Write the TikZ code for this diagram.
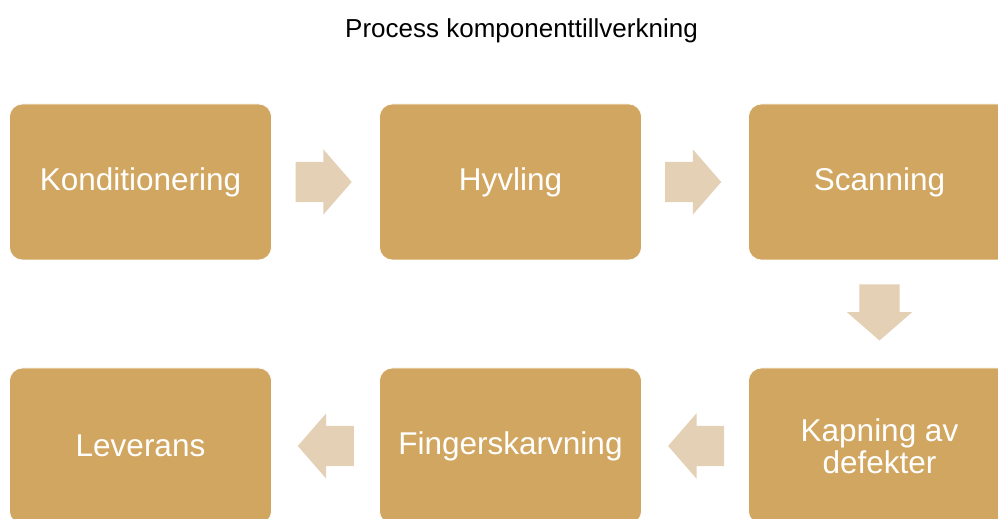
\documentclass[tikz,border=0pt]{standalone}
\usepackage{fontspec}
\setmainfont{Liberation Sans}
\usetikzlibrary{calc,shapes.arrows}
\definecolor{procGold}{RGB}{209,166,96}
\definecolor{procSand}{RGB}{228,208,181}

\begin{document}
\begin{tikzpicture}[x=1pt,y=1pt,
    stepbox/.style={rounded corners=13pt,fill=procGold,draw=white,line width=0.6pt,
      minimum width=262pt,minimum height=156pt,inner sep=0pt,text=white,align=center,
      font=\fontsize{31.5}{31.6}\selectfont},
    flowarrow/.style={single arrow,fill=procSand,draw=none,inner xsep=0pt,inner ysep=20pt,
      minimum height=56pt,minimum width=65pt,single arrow head extend=12.5pt,
      single arrow tip angle=98,anchor=tail}]
  \useasboundingbox (0,0) rectangle (998,519);
  \node[font=\fontsize{26}{30}\selectfont,anchor=base] (title) at (521.5,481) {Process komponenttillverkning};
  % upper row
  \node[stepbox] (kond) at (140.5,337) {Konditionering};
  \node[stepbox] (hyvl) at (510.5,337) {Hyvling};
  \node[stepbox] (scan) at (879.5,337) {Scanning};
  % lower row, right to left
  \node[stepbox] (kapn) at (879.5,73) {Kapning av\\defekter};
  \node[stepbox] (fing) at (510.5,73) {Fingerskarvning};
  \node[stepbox] (leve) at (140.5,73) {Leverans};
  % block arrows between the steps, placed by their tails
  \node[flowarrow] (kond-hyvl) at ($(kond.east)!0.5!(hyvl.west)+(-30,0)$) {};
  \node[flowarrow] (hyvl-scan) at ($(hyvl.east)!0.5!(scan.west)+(-30,0)$) {};
  \node[flowarrow,shape border rotate=270,inner xsep=20pt,inner ysep=0pt] (scan-kapn) at ($(scan.south)!0.5!(kapn.north)+(0,29.7)$) {};
  \node[flowarrow,shape border rotate=180] (kapn-fing) at ($(kapn.west)!0.5!(fing.east)+(29.3,0)$) {};
  \node[flowarrow,shape border rotate=180] (fing-leve) at ($(fing.west)!0.5!(leve.east)+(28.5,0)$) {};
\end{tikzpicture}
\end{document}
